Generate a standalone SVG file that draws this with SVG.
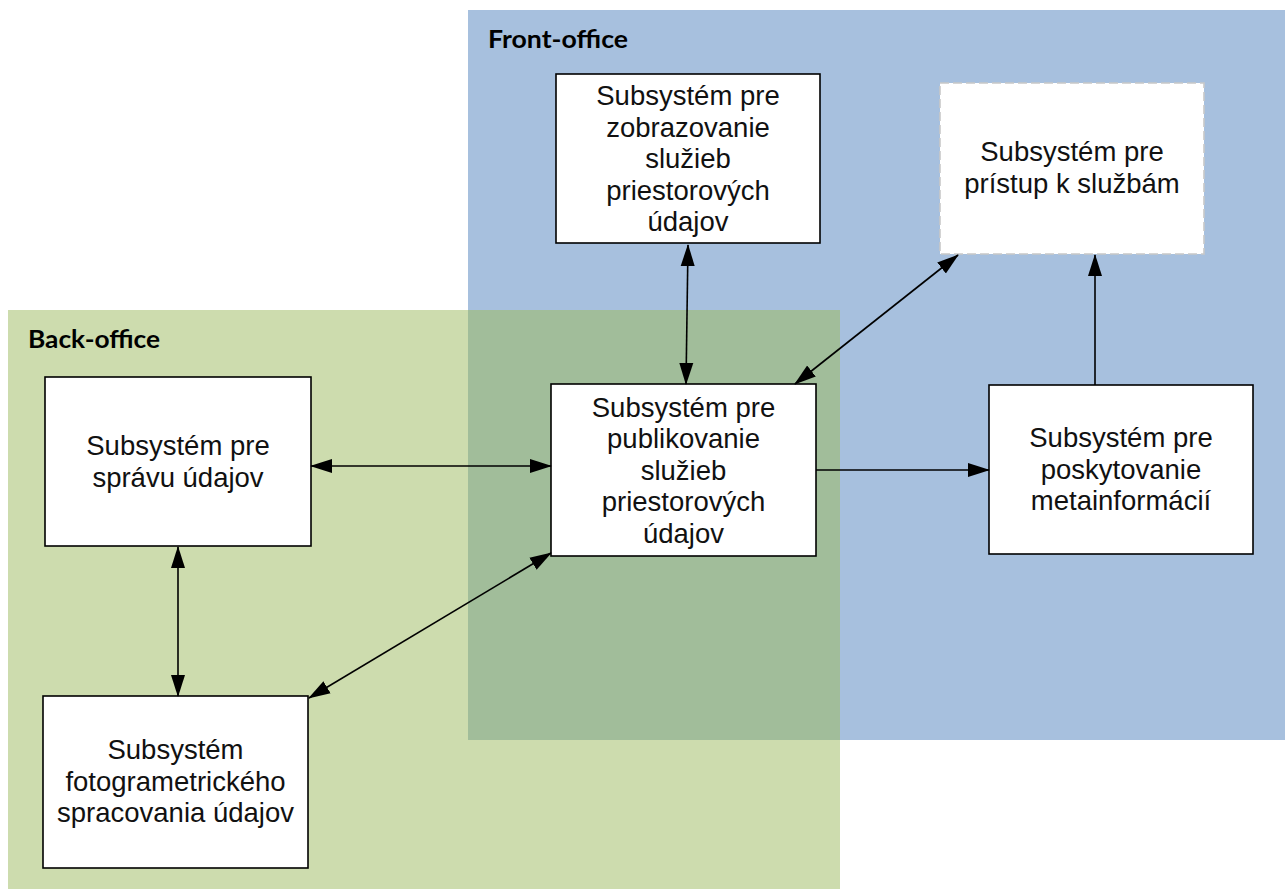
<svg xmlns="http://www.w3.org/2000/svg" width="1285" height="890" viewBox="0 0 1285 890">
  <style>
    .node rect { fill: #ffffff; stroke: #000000; stroke-width: 1.6; }
    .node rect.dashed { stroke: #c8c8c8; stroke-dasharray: 9 4; }
    .node text { font-family: "Liberation Sans", Arial, sans-serif; font-size: 27.5px; fill: #111111; text-anchor: middle; }
    .zone-label { font-family: Lato, "Open Sans", sans-serif; font-weight: bold; font-size: 25px; fill: #000000; }
    .conn line { stroke: #000000; stroke-width: 1.6; fill: none; }
  </style>
  <defs>
    <marker id="arrow" markerUnits="userSpaceOnUse" markerWidth="22" markerHeight="15" viewBox="0 0 22 14" refX="21" refY="7" orient="auto-start-reverse">
      <path d="M0,0 L22,7 L0,14 z" fill="#000000"/>
    </marker>
  </defs>

  <g id="zones">
    <rect id="front-office" x="468" y="10" width="817" height="730" fill="#a7c0de"/>
    <rect id="back-office" x="8" y="310" width="832" height="579" fill="#cddcae"/>
    <rect id="overlap" x="468" y="310" width="372" height="430" fill="#a1bd9a"/>
    <text class="zone-label" x="488" y="48" textLength="140" lengthAdjust="spacingAndGlyphs">Front-office</text>
    <text class="zone-label" x="28" y="348" textLength="132" lengthAdjust="spacingAndGlyphs">Back-office</text>
  </g>

  <g id="node-zobrazovanie" class="node">
    <rect x="556" y="74" width="264" height="169"/>
    <text x="688" y="105">Subsystém pre</text>
    <text x="688" y="136.5">zobrazovanie</text>
    <text x="688" y="168">služieb</text>
    <text x="688" y="199.5">priestorových</text>
    <text x="688" y="231">údajov</text>
  </g>

  <g id="node-pristup" class="node">
    <rect class="dashed" x="940" y="83" width="264" height="171"/>
    <text x="1072" y="161">Subsystém pre</text>
    <text x="1072" y="193">prístup k službám</text>
  </g>

  <g id="node-publikovanie" class="node">
    <rect x="551" y="384" width="265" height="172"/>
    <text x="683.5" y="416.5">Subsystém pre</text>
    <text x="683.5" y="448">publikovanie</text>
    <text x="683.5" y="479.5">služieb</text>
    <text x="683.5" y="511">priestorových</text>
    <text x="683.5" y="542.5">údajov</text>
  </g>

  <g id="node-metainformacie" class="node">
    <rect x="989" y="385" width="264" height="169"/>
    <text x="1121" y="447">Subsystém pre</text>
    <text x="1121" y="478.5">poskytovanie</text>
    <text x="1121" y="510">metainformácií</text>
  </g>

  <g id="node-spravu" class="node">
    <rect x="45" y="377" width="266" height="169"/>
    <text x="178" y="455">Subsystém pre</text>
    <text x="178" y="487">správu údajov</text>
  </g>

  <g id="node-fotogram" class="node">
    <rect x="43" y="696" width="265" height="172"/>
    <text x="175.5" y="759">Subsystém</text>
    <text x="175.5" y="791">fotogrametrického</text>
    <text x="175.5" y="822">spracovania údajov</text>
  </g>

  <g id="connectors" class="conn">
    <line x1="688" y1="245" x2="686" y2="384" marker-start="url(#arrow)" marker-end="url(#arrow)"/>
    <line x1="958" y1="255" x2="795" y2="384" marker-start="url(#arrow)" marker-end="url(#arrow)"/>
    <line x1="311" y1="466" x2="551" y2="466" marker-start="url(#arrow)" marker-end="url(#arrow)"/>
    <line x1="816" y1="470" x2="989" y2="470" marker-end="url(#arrow)"/>
    <line x1="1095" y1="385" x2="1095" y2="255" marker-end="url(#arrow)"/>
    <line x1="178" y1="547" x2="178" y2="696" marker-start="url(#arrow)" marker-end="url(#arrow)"/>
    <line x1="551" y1="553" x2="309" y2="698" marker-start="url(#arrow)" marker-end="url(#arrow)"/>
  </g>
</svg>
